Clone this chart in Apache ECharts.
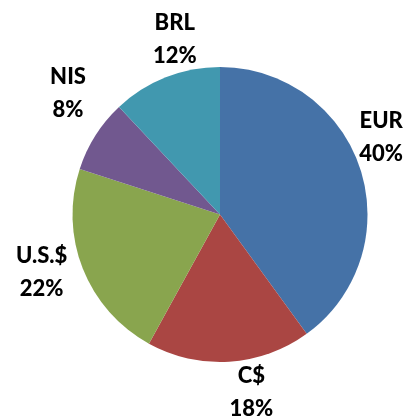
<!DOCTYPE html>
<html>
<head>
<meta charset="utf-8">
<script src="https://cdn.jsdelivr.net/npm/echarts@6/dist/echarts.min.js"></script>
<style>
html, body { margin: 0; padding: 0; background: #fff; }
#main { width: 411px; height: 419px; }
</style>
</head>
<body>
<div id="main"></div>
<script>
// currency shares, clockwise from 12 o'clock
var currencies = ['EUR', 'C$', 'U.S.$', 'NIS', 'BRL'];
var shares = [40, 18, 22, 8, 12];
var colors = ['#4572A7', '#AA4643', '#89A54E', '#71588F', '#4198AF'];

var cx = 220, cy = 214.5, R = 147.5;
// small nudges so the labels sit where Excel put them
var labelNudge = [[-10, -21], [20, -2], [-11, -8], [0, -25], [21, -8]];

var total = shares.reduce(function (a, b) { return a + b; }, 0);
var midAngles = [];
var acc = 0;
shares.forEach(function (v) {
    midAngles.push((acc + v / 2) / total * Math.PI * 2);
    acc += v;
});

var chart = echarts.init(document.getElementById('main'));
chart.setOption({
    animation: false,
    series: [{
        type: 'pie',
        center: [cx, cy],
        radius: R,
        startAngle: 90,
        clockwise: true,
        avoidLabelOverlap: false,
        data: currencies.map(function (c, i) {
            return { name: c, value: shares[i], itemStyle: { color: colors[i] } };
        }),
        itemStyle: { borderWidth: 0 },
        label: {
            position: 'outside',
            formatter: '{b}\n{d}%',
            fontFamily: 'Lato',
            fontWeight: 900,
            fontSize: 22,
            lineHeight: 33,
            color: '#000',
            align: 'center'
        },
        labelLine: { show: false },
        labelLayout: function (p) {
            var a = midAngles[p.dataIndex];
            var n = labelNudge[p.dataIndex];
            return {
                x: cx + Math.sin(a) * 180 + n[0],
                y: cy - Math.cos(a) * 180 + n[1],
                align: 'center',
                verticalAlign: 'middle'
            };
        },
        emphasis: { disabled: true }
    }]
});
</script>
</body>
</html>
